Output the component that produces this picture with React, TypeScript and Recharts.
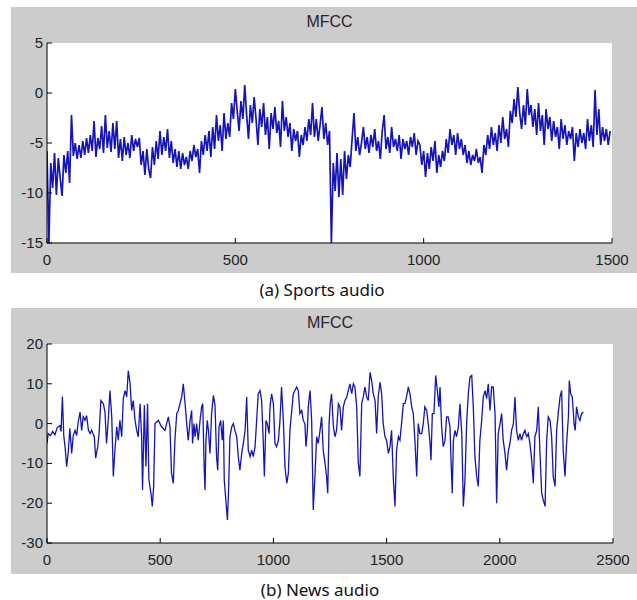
import React from "react";
import { LineChart, Line, XAxis, YAxis, CartesianGrid } from "recharts";

// Sports audio MFCC, one value every 5 frames
const sportsStep = 5;
const sportsValues = [
  -5.8, -15, -7, -9.5, -6, -10.2, -6.5, -8.5, -10.3, -6.2,
  -8, -5.8, -9, -2.2, -6.3, -5, -6.6, -5.2, -6.5, -4.8,
  -6.2, -4.5, -6, -4.2, -5.8, -2.8, -6.4, -4.5, -5.6, -3.3,
  -6, -2.2, -5.5, -3.8, -5.9, -3, -5.6, -2.8, -6.5, -4.6,
  -6.8, -4.4, -6.2, -5, -6.5, -4.2, -5.8, -4.6, -5.4, -4.5,
  -7.2, -5.8, -8.2, -5.6, -7.6, -8.5, -5.4, -7.2, -4.8, -6.6,
  -3.8, -6.2, -4.4, -5.8, -3.6, -6.5, -4.8, -7, -5.6, -7.4,
  -5.8, -7.6, -6, -7.2, -6.4, -7.6, -5.8, -6.8, -5.2, -6.4,
  -5.6, -8, -4.8, -6.2, -4.2, -5.8, -3.8, -6.4, -3.4, -5.6,
  -2.2, -4.8, -3.2, -5.8, -2, -4.6, -3, -4.4, -1, -2.6,
  0.4, -1.8, -3.8, -0.8, -2.6, 0.8, -2.2, -4.6, -1.2, -3,
  -0.4, -2.6, -5.2, -1.6, -3.4, -1, -4.2, -2.4, -5.6, -2,
  -3.6, -1.4, -4, -2.8, -5.4, -0.8, -3.8, -2.4, -4.4, -3,
  -5.8, -3.6, -4.8, -3.8, -6.4, -4.2, -5.2, -3.4, -4.8, -2.6,
  -4.2, -1, -4.4, -2.6, -4.8, -3.2, -1.4, -4.6, -3, -5.2,
  -3.8, -15, -7, -9.8, -6, -10.4, -6.6, -10.2, -5.8, -8.6,
  -6.2, -7.4, -4.6, -2, -5.8, -4.4, -6.2, -5, -3.4, -5.6,
  -4.4, -6, -4.2, -5.4, -3.6, -5.8, -4.8, -6.6, -3.8, -2.2,
  -5.6, -4.4, -6, -3.4, -5.4, -4.6, -5.8, -4.2, -6.6, -4.6,
  -5.6, -4.8, -6.2, -4.4, -5.4, -4, -6.2, -4.8, -5.2, -7.2,
  -5.8, -8.4, -6, -7.6, -5.4, -6.8, -4.8, -8, -6.2, -7.4,
  -5.8, -6.8, -4.6, -6, -3.6, -5.2, -4.2, -6.2, -4, -5.6,
  -4.6, -6.2, -5.2, -7, -5.8, -7.2, -6.2, -6.8, -5.6, -7,
  -6.4, -8, -5.2, -6.2, -4.2, -5.6, -3.4, -5.2, -4, -5.8,
  -3.2, -5, -2.4, -4.6, -3.6, -5.4, -1.8, -3, -0.6, -2.4,
  0.6, -2, -3.6, -1.2, -3.2, 0.4, -2.2, -1.2, -3.4, -1.6,
  -4.2, -1, -3.8, -2.2, -5.2, -1.6, -3.6, -2.4, -4.8, -2.8,
  -4.4, -3.4, -5.6, -2.6, -4.6, -3.2, -5.2, -3.8, -4.6, -3.4,
  -6.8, -4, -5.4, -3.6, -5, -4, -5.6, -2.6, -4.8, -3.2,
  -5.4, 0.3, -4.2, -1.6, -5.2, -3.4, -4.8, -3.6, -5.2, -3.8,
];
const sportsXTicks = [0, 500, 1000, 1500];
const sportsYTicks = [-15, -10, -5, 0, 5];

// News audio MFCC: frame index and value at each turning point
const newsSamples = [
  0, 5, 15, 25, 35, 45, 57, 62, 68, 74, 80, 87, 94, 101, 109, 116, 124, 131, 138, 146,
  153, 160, 168, 175, 183, 190, 197, 209, 215, 224, 230, 238, 249, 256, 263, 271, 278, 286, 293, 300,
  308, 315, 322, 330, 337, 345, 352, 359, 367, 374, 381, 389, 396, 403, 411, 418, 422, 430, 437, 444,
  450, 459, 465, 471, 477, 492, 506, 521, 536, 543, 550, 558, 565, 573, 580, 595, 602, 610, 617, 624,
  632, 639, 643, 649, 654, 661, 668, 676, 683, 688, 694, 698, 702, 708, 713, 720, 727, 735, 742, 749,
  754, 760, 767, 774, 779, 783, 791, 797, 802, 808, 816, 823, 830, 838, 845, 852, 860, 867, 875, 882,
  889, 897, 904, 911, 919, 926, 933, 941, 948, 955, 960, 967, 973, 981, 985, 992, 1000, 1007, 1014, 1022,
  1029, 1036, 1044, 1051, 1059, 1066, 1073, 1081, 1088, 1095, 1103, 1110, 1117, 1125, 1132, 1139, 1144, 1150, 1154, 1162,
  1169, 1176, 1184, 1191, 1198, 1206, 1213, 1220, 1228, 1235, 1240, 1246, 1251, 1257, 1265, 1272, 1279, 1287, 1294, 1301,
  1309, 1316, 1324, 1331, 1338, 1346, 1353, 1360, 1368, 1375, 1382, 1390, 1397, 1404, 1412, 1419, 1427, 1434, 1441, 1449,
  1456, 1463, 1471, 1478, 1485, 1493, 1500, 1508, 1515, 1522, 1530, 1537, 1544, 1552, 1559, 1566, 1574, 1581, 1588, 1596,
  1603, 1611, 1618, 1625, 1633, 1640, 1647, 1655, 1662, 1669, 1677, 1684, 1692, 1696, 1702, 1709, 1717, 1724, 1731, 1736,
  1743, 1750, 1758, 1765, 1772, 1780, 1784, 1790, 1795, 1802, 1809, 1817, 1824, 1832, 1839, 1846, 1854, 1861, 1868, 1876,
  1883, 1890, 1898, 1905, 1912, 1920, 1927, 1935, 1942, 1949, 1957, 1964, 1971, 1979, 1986, 1993, 2001, 2008, 2015, 2023,
  2030, 2038, 2045, 2052, 2060, 2067, 2074, 2082, 2089, 2096, 2104, 2111, 2119, 2126, 2133, 2141, 2148, 2155, 2163, 2170,
  2177, 2185, 2192, 2200, 2207, 2214, 2222, 2229, 2236, 2244, 2251, 2258, 2266, 2273, 2280, 2288, 2295, 2303, 2307, 2313,
  2320, 2328, 2333, 2339, 2347, 2354, 2361, 2369,
];
const newsValues = [
  -5, -2.5, -3, -2, -2.8, -1, -0.5, -2, 6.8, -3, -6, -10.8, -7, -1.2, -7.5, -3, -1.7, -3, 0.4, 2.9,
  -1.7, 1.7, 0.8, 2, -1.7, -2.5, -1.7, -3.3, -8.7, -5.8, -2.5, 5.8, 5, 2.9, -5, 1.2, 8.3, 1.7, -13.3, -6.7,
  -0.8, -4.2, 0.8, -3.3, 6.3, 8.3, 6.7, 13.3, 10, 3.3, 5.8, 0.8, -1.7, -3.3, 5, -3.3, -16.7, 4.6, -10.8, 5,
  -14, -17.5, -20.8, -15.8, 0, 0.8, -0.8, -1.7, 1.7, -0.8, -12.5, -15, -4.2, 2.5, 3.3, 6.7, 10, 5, 0, -4.2,
  0.8, 3.3, -5, 0, -3.3, 0, -4.2, 0.8, 4.2, 5, -10.8, -16.7, -4.2, 0.8, -1.7, -7.5, 2.5, 7.1, 4.6, -8.3,
  -11.7, -0.8, 0.8, -4.2, 0.8, -14.2, -20, -24.2, -16.7, -3.3, -0.8, 0, -1.7, -3.3, -8.3, -11.7, -7.5, -5, -1.7, 6.7,
  -6.7, -8.3, -6.7, -8.3, -5.8, 0.8, 7.5, 8.3, 5.8, -4.2, -13.3, 0.8, 0, -2.5, 4.2, 7.5, 5, -5, -5.8, -4.2,
  0.8, 9.2, 0.8, -10.8, -15, -12.5, -1.7, 3.3, 7.5, 8.3, 9.2, 8.3, 2.5, 3.3, 0.8, 0, -5.8, -1.7, 4.2, 8.3,
  0.8, -21.7, -12.5, -3.3, -5, -1.7, 1.7, -6.7, -10, -13.3, -17.5, 0, 5, 7.5, -0.8, -3.3, -1.7, 5, 4.2, -1.7,
  4.2, 5.8, 6.7, 8.3, 10, 7.5, 10, 9.2, 4.2, -10, -13.3, 5, 6.7, 9.2, 6.7, 5.8, 12.9, 10.8, 7.5, 5.8,
  -2.5, 6.7, 10.4, 7.5, 0, -3.3, -4.2, -7.5, -5.8, -1.7, -14.2, -20.8, -6.7, -3.3, -4.2, 0, 5, 5, 6.7, 9.2,
  7.5, 4.2, 2.5, -4.2, -13.3, 0, -2.5, -2.5, 0, 4.2, 3.3, 0, -5, -9.2, 2.5, 2.5, 12.1, 8.3, 4.2, 9.2,
  -0.8, -5.8, -4.2, 1.7, 1.7, -0.8, -8.3, -17.5, -4.2, -1.7, -3.3, -0.8, 5, -2.5, -20.8, -14.2, 0.8, 7.5, 11.7, 12.1,
  4.2, -8.3, -13.3, -15.8, -4.2, 0.8, 6.7, 8.3, 6.3, 10, 3.3, 9.2, 9.2, 2.5, -20, -2.5, 0, 2.5, -4.2, -7.5,
  -11.7, -6.7, -5, -1.7, 0, 6.7, -1.7, -4.2, -2.5, -4.2, -2.5, -1.7, -3.3, -2.5, -5, -9.2, -15, -3.3, -1.7, 4.2,
  -6.7, -17.5, -19.2, -20.8, -4.2, 1.7, 0.8, -3.3, -13.3, -15.8, -1.7, 2.5, 6.7, 8.3, -6.7, -13.3, -5, 1.7, 10.8, 7.5,
  6.7, 0, -1.7, 4.2, 1.7, 0.8, 2.5, 2.9,
];
const newsXTicks = [0, 500, 1000, 1500, 2000, 2500];
const newsYTicks = [-30, -20, -10, 0, 10, 20];

const sportsData = sportsValues.map((v, i) => ({ t: i * sportsStep, v }));
const newsData = newsSamples.map((t, i) => ({ t, v: newsValues[i] }));

const FONT = "'Liberation Sans', Arial, sans-serif";
const TICK_LEN = 5;
const LINE_COLOR = "#1414b8";

// MATLAB style: tick marks point into the box, labels sit outside
const BottomTick = ({ x, y, payload }: any) => (
  <g>
    <line x1={x} y1={y} x2={x} y2={y - TICK_LEN} stroke="#000" />
    <text x={x} y={y + 22} textAnchor="middle" fontSize={15} fill="#222" fontFamily={FONT}>
      {payload.value}
    </text>
  </g>
);

const LeftTick = ({ x, y, payload }: any) => (
  <g>
    <line x1={x} y1={y} x2={x + TICK_LEN} y2={y} stroke="#000" />
    <text x={x - 4} y={y + 5} textAnchor="end" fontSize={15} fill="#222" fontFamily={FONT}>
      {payload.value}
    </text>
  </g>
);

const TopTick = ({ x, y }: any) => (
  <line x1={x} y1={y} x2={x} y2={y + TICK_LEN} stroke="#000" />
);

const RightTick = ({ x, y }: any) => (
  <line x1={x} y1={y} x2={x - TICK_LEN} y2={y} stroke="#000" />
);

interface PanelProps {
  top: number;
  data: Array<{ t: number; v: number }>;
  xDomain: [number, number];
  yDomain: [number, number];
  xTicks: number[];
  yTicks: number[];
  rightMargin: number;
  xAxisHeight: number;
  lineWidth: number;
  caption: string;
  captionTop: number;
  captionLeft: number;
}

const PANEL_W = 626;
const PANEL_H = 266;

const Panel = ({
  top,
  data,
  xDomain,
  yDomain,
  xTicks,
  yTicks,
  rightMargin,
  xAxisHeight,
  lineWidth,
  caption,
  captionTop,
  captionLeft,
}: PanelProps) => {
  const plotW = PANEL_W - 36 - rightMargin;
  return (
    <>
      <div
        style={{
          position: "absolute",
          left: 11,
          top,
          width: PANEL_W,
          height: PANEL_H,
          background: "#cccccc",
        }}
      >
        <div
          style={{
            position: "absolute",
            left: 36,
            width: plotW,
            top: 5,
            textAlign: "center",
            fontFamily: FONT,
            fontSize: 16,
            color: "#2a2230",
            lineHeight: "20px",
          }}
        >
          MFCC
        </div>
        <LineChart
          width={PANEL_W}
          height={PANEL_H}
          data={data}
          margin={{ top: 36, right: rightMargin, bottom: 0, left: 0 }}
        >
          <CartesianGrid xAxisId="b" yAxisId="l" fill="#fff" stroke="none" horizontal={false} vertical={false} />
          <XAxis
            xAxisId="b"
            dataKey="t"
            type="number"
            domain={xDomain}
            ticks={xTicks}
            interval={0}
            allowDataOverflow
            height={xAxisHeight}
            tickSize={0}
            tickMargin={0}
            tickLine={false}
            axisLine={{ stroke: "#000" }}
            tick={<BottomTick />}
          />
          <XAxis
            xAxisId="t"
            orientation="top"
            dataKey="t"
            type="number"
            domain={xDomain}
            ticks={xTicks}
            interval={0}
            allowDataOverflow
            height={0}
            tickSize={0}
            tickMargin={0}
            tickLine={false}
            axisLine={{ stroke: "#000" }}
            tick={<TopTick />}
          />
          <YAxis
            yAxisId="l"
            type="number"
            domain={yDomain}
            ticks={yTicks}
            interval={0}
            allowDataOverflow
            width={36}
            tickSize={0}
            tickMargin={0}
            tickLine={false}
            axisLine={{ stroke: "#000" }}
            tick={<LeftTick />}
          />
          <YAxis
            yAxisId="r"
            orientation="right"
            type="number"
            domain={yDomain}
            ticks={yTicks}
            interval={0}
            allowDataOverflow
            width={0}
            tickSize={0}
            tickMargin={0}
            tickLine={false}
            axisLine={{ stroke: "#000" }}
            tick={<RightTick />}
          />
          <Line
            xAxisId="b"
            yAxisId="l"
            dataKey="v"
            type="linear"
            stroke={LINE_COLOR}
            strokeWidth={lineWidth}
            strokeLinejoin="miter"
            dot={false}
            activeDot={false}
            isAnimationActive={false}
          />
        </LineChart>
      </div>
      <div
        style={{
          position: "absolute",
          left: captionLeft - 120,
          width: 240,
          top: captionTop,
          textAlign: "center",
          fontFamily: "'Noto Sans', 'Open Sans', sans-serif",
          fontSize: 17,
          color: "#111",
          lineHeight: "20px",
        }}
      >
        {caption}
      </div>
    </>
  );
};

export default function App() {
  return (
    <div
      style={{
        position: "absolute",
        left: 0,
        top: 0,
        width: 637,
        height: 600,
        background: "#fff",
        overflow: "hidden",
      }}
    >
      <Panel
        top={7}
        data={sportsData}
        xDomain={[0, 1500]}
        yDomain={[-15, 5]}
        xTicks={sportsXTicks}
        yTicks={sportsYTicks}
        rightMargin={25}
        xAxisHeight={30}
        lineWidth={1.7}
        caption="(a) Sports audio"
        captionTop={280}
        captionLeft={322}
      />
      <Panel
        top={308}
        data={newsData}
        xDomain={[0, 2500]}
        yDomain={[-30, 20]}
        xTicks={newsXTicks}
        yTicks={newsYTicks}
        rightMargin={24}
        xAxisHeight={31}
        lineWidth={1.3}
        caption="(b) News audio"
        captionTop={580}
        captionLeft={320}
      />
    </div>
  );
}
